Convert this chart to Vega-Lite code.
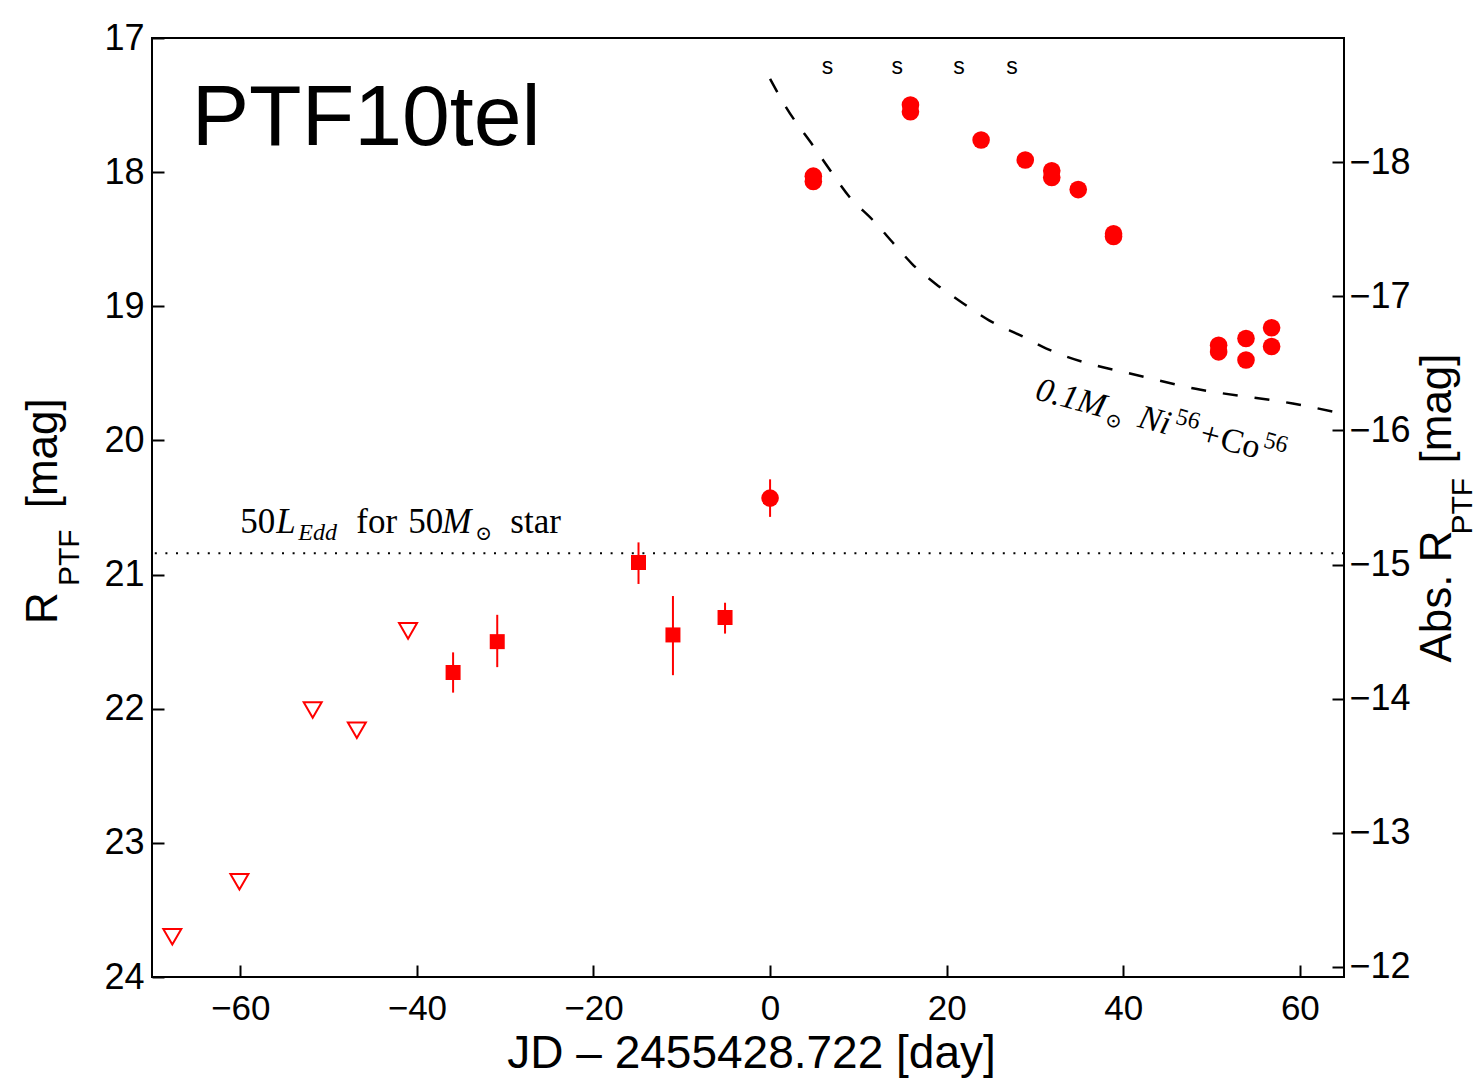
{
  "$schema": "https://vega.github.io/schema/vega-lite/v6.json",
  "width": 1192,
  "height": 939,
  "autosize": {"type": "none"},
  "padding": {"left": 152, "top": 38, "right": 134, "bottom": 102},
  "background": "white",
  "datasets": {
    "limits": [
      {"t": -67.7, "mag": 23.70},
      {"t": -60.1, "mag": 23.29},
      {"t": -51.8, "mag": 22.01},
      {"t": -46.8, "mag": 22.16},
      {"t": -41.0, "mag": 21.42}
    ],
    "phot": [
      {"t": -35.9, "mag": 21.73, "lo": 21.58, "hi": 21.88, "kind": "square"},
      {"t": -30.9, "mag": 21.50, "lo": 21.30, "hi": 21.69, "kind": "square"},
      {"t": -14.9, "mag": 20.91, "lo": 20.76, "hi": 21.07, "kind": "square"},
      {"t": -11.0, "mag": 21.45, "lo": 21.16, "hi": 21.75, "kind": "square"},
      {"t": -5.1, "mag": 21.32, "lo": 21.21, "hi": 21.44, "kind": "square"},
      {"t": 0.0, "mag": 20.43, "lo": 20.29, "hi": 20.57, "kind": "circle"},
      {"t": 4.9, "mag": 18.03, "kind": "circle"},
      {"t": 4.9, "mag": 18.07, "kind": "circle"},
      {"t": 15.9, "mag": 17.50, "kind": "circle"},
      {"t": 15.9, "mag": 17.55, "kind": "circle"},
      {"t": 23.9, "mag": 17.76, "kind": "circle"},
      {"t": 28.9, "mag": 17.91, "kind": "circle"},
      {"t": 31.9, "mag": 17.99, "kind": "circle"},
      {"t": 31.9, "mag": 18.04, "kind": "circle"},
      {"t": 34.9, "mag": 18.13, "kind": "circle"},
      {"t": 38.9, "mag": 18.46, "kind": "circle"},
      {"t": 38.9, "mag": 18.48, "kind": "circle"},
      {"t": 50.8, "mag": 19.29, "kind": "circle"},
      {"t": 50.8, "mag": 19.34, "kind": "circle"},
      {"t": 53.9, "mag": 19.24, "kind": "circle"},
      {"t": 53.9, "mag": 19.40, "kind": "circle"},
      {"t": 56.8, "mag": 19.16, "kind": "circle"},
      {"t": 56.8, "mag": 19.30, "kind": "circle"}
    ],
    "spectra": [{"t": 6.5}, {"t": 14.4}, {"t": 21.4}, {"t": 27.4}],
    "name": [{"t": -65.5, "mag": 17.80, "label": "PTF10tel"}],
    "eddington": [{"absmag": -15.084}],
    "nico": [
      {"t": 0.0, "absmag": -18.62},
      {"t": 1.8, "absmag": -18.41},
      {"t": 5.0, "absmag": -18.11},
      {"t": 6.9, "absmag": -17.93},
      {"t": 9.0, "absmag": -17.74},
      {"t": 11.6, "absmag": -17.57},
      {"t": 14.3, "absmag": -17.37},
      {"t": 16.1, "absmag": -17.24},
      {"t": 18.8, "absmag": -17.09},
      {"t": 21.8, "absmag": -16.95},
      {"t": 24.8, "absmag": -16.82},
      {"t": 28.6, "absmag": -16.70},
      {"t": 31.3, "absmag": -16.61},
      {"t": 37.7, "absmag": -16.47},
      {"t": 39.7, "absmag": -16.44},
      {"t": 48.2, "absmag": -16.31},
      {"t": 59.2, "absmag": -16.20},
      {"t": 64.5, "absmag": -16.13}
    ],
    "edd_label": [{"t": -60.0, "absmag": -15.235}],
    "nico_label": [{"t": 29.9, "absmag": -16.234}]
  },
  "config": {
    "view": {"stroke": "#000000", "strokeWidth": 2},
    "axis": {
      "labelFont": "Liberation Sans",
      "titleFont": "Liberation Sans",
      "titleFontWeight": "normal",
      "labelColor": "#000000",
      "titleColor": "#000000",
      "tickColor": "#000000",
      "tickWidth": 2,
      "grid": false,
      "domain": false,
      "labelFlush": false,
      "labelOverlap": false
    },
    "axisX": {
      "orient": "bottom",
      "titleFontSize": 46,
      "titleX": 599,
      "titleY": 90,
      "titleAlign": "center",
      "titleBaseline": "alphabetic",
      "labelFontSize": 35,
      "tickSize": -12,
      "labelPadding": 26
    }
  },
  "resolve": {"scale": {"y": "independent"}, "axis": {"y": "independent"}},
  "layer": [
    {
      "data": {"name": "limits"},
      "mark": {"type": "point", "shape": "triangle-down", "filled": false, "stroke": "#ff0000", "strokeWidth": 2, "size": 324, "opacity": 1},
      "encoding": {
        "x": {"field": "t", "type": "quantitative", "scale": {"domain": [-70, 65], "nice": false, "zero": false}, "axis": {"title": "JD – 2455428.722 [day]", "values": [-60, -40, -20, 0, 20, 40, 60], "format": "d"}},
        "y": {
          "field": "mag", "type": "quantitative",
          "scale": {"domain": [17, 24], "reverse": true, "nice": false, "zero": false},
          "axis": {
            "orient": "left", "values": [17, 18, 19, 20, 21, 22, 23, 24], "format": "d",
            "labelFontSize": 36, "tickSize": -12, "labelPadding": 20,
            "title": "R", "titleFontSize": 44, "titleAngle": 270,
            "titleX": -95.3, "titleY": 585.5, "titleAlign": "left", "titleBaseline": "alphabetic"
          }
        }
      }
    },
    {
      "data": {"name": "phot"},
      "transform": [{"filter": "datum.lo != null"}],
      "mark": {"type": "rule", "color": "#ff0000", "strokeWidth": 2},
      "encoding": {
        "x": {"field": "t", "type": "quantitative", "scale": {"domain": [-70, 65], "nice": false, "zero": false}, "axis": {"title": "JD – 2455428.722 [day]", "values": [-60, -40, -20, 0, 20, 40, 60], "format": "d"}},
        "y": {
          "field": "lo", "type": "quantitative",
          "scale": {"domain": [17, 24], "reverse": true, "nice": false, "zero": false},
          "axis": {
            "orient": "left", "labels": false, "ticks": false, "domain": false,
            "title": "PTF", "titleFontSize": 30, "titleAngle": 270,
            "titleX": -73.7, "titleY": 547.5, "titleAlign": "left", "titleBaseline": "alphabetic"
          }
        },
        "y2": {"field": "hi"}
      }
    },
    {
      "data": {"name": "phot"},
      "transform": [{"filter": "datum.kind == 'square'"}],
      "mark": {"type": "square", "color": "#ff0000", "size": 225, "opacity": 1},
      "encoding": {
        "x": {"field": "t", "type": "quantitative", "scale": {"domain": [-70, 65], "nice": false, "zero": false}, "axis": {"title": "JD – 2455428.722 [day]", "values": [-60, -40, -20, 0, 20, 40, 60], "format": "d"}},
        "y": {
          "field": "mag", "type": "quantitative",
          "scale": {"domain": [17, 24], "reverse": true, "nice": false, "zero": false},
          "axis": {
            "orient": "left", "labels": false, "ticks": false, "domain": false,
            "title": "[mag]", "titleFontSize": 44, "titleAngle": 270,
            "titleX": -95.3, "titleY": 469.8, "titleAlign": "left", "titleBaseline": "alphabetic"
          }
        }
      }
    },
    {
      "data": {"name": "phot"},
      "transform": [{"filter": "datum.kind == 'circle'"}],
      "mark": {"type": "circle", "color": "#ff0000", "size": 310, "opacity": 1},
      "encoding": {
        "x": {"field": "t", "type": "quantitative", "scale": {"domain": [-70, 65], "nice": false, "zero": false}, "axis": {"title": "JD – 2455428.722 [day]", "values": [-60, -40, -20, 0, 20, 40, 60], "format": "d"}},
        "y": {"field": "mag", "type": "quantitative", "scale": {"domain": [17, 24], "reverse": true, "nice": false, "zero": false}, "axis": null}
      }
    },
    {
      "data": {"name": "spectra"},
      "mark": {"type": "text", "font": "Liberation Sans", "fontSize": 23, "align": "center", "baseline": "alphabetic", "color": "#000000"},
      "encoding": {
        "x": {"field": "t", "type": "quantitative", "scale": {"domain": [-70, 65], "nice": false, "zero": false}, "axis": {"title": "JD – 2455428.722 [day]", "values": [-60, -40, -20, 0, 20, 40, 60], "format": "d"}},
        "y": {"datum": 17.268, "type": "quantitative", "scale": {"domain": [17, 24], "reverse": true, "nice": false, "zero": false}, "axis": null},
        "text": {"value": "s"}
      }
    },
    {
      "data": {"name": "name"},
      "mark": {"type": "text", "font": "Liberation Sans", "fontSize": 86, "align": "left", "baseline": "alphabetic", "color": "#000000"},
      "encoding": {
        "x": {"field": "t", "type": "quantitative", "scale": {"domain": [-70, 65], "nice": false, "zero": false}, "axis": {"title": "JD – 2455428.722 [day]", "values": [-60, -40, -20, 0, 20, 40, 60], "format": "d"}},
        "y": {"field": "mag", "type": "quantitative", "scale": {"domain": [17, 24], "reverse": true, "nice": false, "zero": false}, "axis": null},
        "text": {"field": "label"}
      }
    },
    {
      "data": {"name": "eddington"},
      "mark": {"type": "rule", "color": "#000000", "strokeWidth": 2, "strokeDash": [2, 8.6]},
      "encoding": {
        "y": {
          "field": "absmag", "type": "quantitative",
          "scale": {"domain": [-18.925, -11.925], "reverse": true, "nice": false, "zero": false},
          "axis": {
            "orient": "right", "values": [-18, -17, -16, -15, -14, -13, -12], "format": "d",
            "labelFontSize": 36, "tickSize": -12, "labelPadding": 17, "labelAlign": "left",
            "title": "Abs. R", "titleFontSize": 44, "titleAngle": 270,
            "titleX": 106, "titleY": 624, "titleAlign": "left", "titleBaseline": "alphabetic"
          }
        }
      }
    },
    {
      "data": {"name": "nico"},
      "mark": {"type": "line", "color": "#000000", "strokeWidth": 2.5, "strokeDash": [15, 17], "interpolate": "monotone"},
      "encoding": {
        "x": {"field": "t", "type": "quantitative", "scale": {"domain": [-70, 65], "nice": false, "zero": false}, "axis": {"title": "JD – 2455428.722 [day]", "values": [-60, -40, -20, 0, 20, 40, 60], "format": "d"}},
        "y": {
          "field": "absmag", "type": "quantitative",
          "scale": {"domain": [-18.925, -11.925], "reverse": true, "nice": false, "zero": false},
          "axis": {
            "orient": "right", "labels": false, "ticks": false, "domain": false,
            "title": "PTF", "titleFontSize": 30, "titleAngle": 270,
            "titleX": 127.6, "titleY": 496, "titleAlign": "left", "titleBaseline": "alphabetic"
          }
        }
      }
    },
    {
      "data": {"name": "edd_label"},
      "mark": {"type": "text", "font": "Liberation Serif", "fontSize": 35, "align": "left", "baseline": "alphabetic", "color": "#000000"},
      "encoding": {
        "x": {"field": "t", "type": "quantitative", "scale": {"domain": [-70, 65], "nice": false, "zero": false}, "axis": {"title": "JD – 2455428.722 [day]", "values": [-60, -40, -20, 0, 20, 40, 60], "format": "d"}},
        "y": {
          "field": "absmag", "type": "quantitative",
          "scale": {"domain": [-18.925, -11.925], "reverse": true, "nice": false, "zero": false},
          "axis": {
            "orient": "right", "labels": false, "ticks": false, "domain": false,
            "title": "[mag]", "titleFontSize": 44, "titleAngle": 270,
            "titleX": 106, "titleY": 425, "titleAlign": "left", "titleBaseline": "alphabetic"
          }
        },
        "text": {"value": "50"}
      }
    },
    {
      "data": {"name": "edd_label"},
      "mark": {"type": "text", "font": "Liberation Serif", "fontSize": 35, "fontStyle": "italic", "align": "left", "baseline": "alphabetic", "dx": 36, "color": "#000000"},
      "encoding": {
        "x": {"field": "t", "type": "quantitative", "scale": {"domain": [-70, 65], "nice": false, "zero": false}, "axis": {"title": "JD – 2455428.722 [day]", "values": [-60, -40, -20, 0, 20, 40, 60], "format": "d"}},
        "y": {"field": "absmag", "type": "quantitative", "scale": {"domain": [-18.925, -11.925], "reverse": true, "nice": false, "zero": false}, "axis": null},
        "text": {"value": "L"}
      }
    },
    {
      "data": {"name": "edd_label"},
      "mark": {"type": "text", "font": "Liberation Serif", "fontSize": 24, "fontStyle": "italic", "align": "left", "baseline": "alphabetic", "dx": 58, "dy": 7, "color": "#000000"},
      "encoding": {
        "x": {"field": "t", "type": "quantitative", "scale": {"domain": [-70, 65], "nice": false, "zero": false}, "axis": {"title": "JD – 2455428.722 [day]", "values": [-60, -40, -20, 0, 20, 40, 60], "format": "d"}},
        "y": {"field": "absmag", "type": "quantitative", "scale": {"domain": [-18.925, -11.925], "reverse": true, "nice": false, "zero": false}, "axis": null},
        "text": {"value": "Edd"}
      }
    },
    {
      "data": {"name": "edd_label"},
      "mark": {"type": "text", "font": "Liberation Serif", "fontSize": 35, "align": "left", "baseline": "alphabetic", "dx": 116, "color": "#000000"},
      "encoding": {
        "x": {"field": "t", "type": "quantitative", "scale": {"domain": [-70, 65], "nice": false, "zero": false}, "axis": {"title": "JD – 2455428.722 [day]", "values": [-60, -40, -20, 0, 20, 40, 60], "format": "d"}},
        "y": {"field": "absmag", "type": "quantitative", "scale": {"domain": [-18.925, -11.925], "reverse": true, "nice": false, "zero": false}, "axis": null},
        "text": {"value": "for"}
      }
    },
    {
      "data": {"name": "edd_label"},
      "mark": {"type": "text", "font": "Liberation Serif", "fontSize": 35, "align": "left", "baseline": "alphabetic", "dx": 168, "color": "#000000"},
      "encoding": {
        "x": {"field": "t", "type": "quantitative", "scale": {"domain": [-70, 65], "nice": false, "zero": false}, "axis": {"title": "JD – 2455428.722 [day]", "values": [-60, -40, -20, 0, 20, 40, 60], "format": "d"}},
        "y": {"field": "absmag", "type": "quantitative", "scale": {"domain": [-18.925, -11.925], "reverse": true, "nice": false, "zero": false}, "axis": null},
        "text": {"value": "50"}
      }
    },
    {
      "data": {"name": "edd_label"},
      "mark": {"type": "text", "font": "Liberation Serif", "fontSize": 35, "fontStyle": "italic", "align": "left", "baseline": "alphabetic", "dx": 202, "color": "#000000"},
      "encoding": {
        "x": {"field": "t", "type": "quantitative", "scale": {"domain": [-70, 65], "nice": false, "zero": false}, "axis": {"title": "JD – 2455428.722 [day]", "values": [-60, -40, -20, 0, 20, 40, 60], "format": "d"}},
        "y": {"field": "absmag", "type": "quantitative", "scale": {"domain": [-18.925, -11.925], "reverse": true, "nice": false, "zero": false}, "axis": null},
        "text": {"value": "M"}
      }
    },
    {
      "data": {"name": "edd_label"},
      "mark": {"type": "text", "font": "DejaVu Serif", "fontSize": 20, "align": "left", "baseline": "alphabetic", "dx": 235, "dy": 7, "color": "#000000"},
      "encoding": {
        "x": {"field": "t", "type": "quantitative", "scale": {"domain": [-70, 65], "nice": false, "zero": false}, "axis": {"title": "JD – 2455428.722 [day]", "values": [-60, -40, -20, 0, 20, 40, 60], "format": "d"}},
        "y": {"field": "absmag", "type": "quantitative", "scale": {"domain": [-18.925, -11.925], "reverse": true, "nice": false, "zero": false}, "axis": null},
        "text": {"value": "⊙"}
      }
    },
    {
      "data": {"name": "edd_label"},
      "mark": {"type": "text", "font": "Liberation Serif", "fontSize": 35, "align": "left", "baseline": "alphabetic", "dx": 270, "color": "#000000"},
      "encoding": {
        "x": {"field": "t", "type": "quantitative", "scale": {"domain": [-70, 65], "nice": false, "zero": false}, "axis": {"title": "JD – 2455428.722 [day]", "values": [-60, -40, -20, 0, 20, 40, 60], "format": "d"}},
        "y": {"field": "absmag", "type": "quantitative", "scale": {"domain": [-18.925, -11.925], "reverse": true, "nice": false, "zero": false}, "axis": null},
        "text": {"value": "star"}
      }
    },
    {
      "data": {"name": "nico_label"},
      "mark": {"type": "text", "font": "Liberation Serif", "fontSize": 34, "fontStyle": "italic", "align": "left", "baseline": "alphabetic", "angle": 15, "color": "#000000"},
      "encoding": {
        "x": {"field": "t", "type": "quantitative", "scale": {"domain": [-70, 65], "nice": false, "zero": false}, "axis": {"title": "JD – 2455428.722 [day]", "values": [-60, -40, -20, 0, 20, 40, 60], "format": "d"}},
        "y": {"field": "absmag", "type": "quantitative", "scale": {"domain": [-18.925, -11.925], "reverse": true, "nice": false, "zero": false}, "axis": null},
        "text": {"value": "0.1M"}
      }
    },
    {
      "data": {"name": "nico_label"},
      "mark": {"type": "text", "font": "DejaVu Serif", "fontSize": 20, "align": "left", "baseline": "alphabetic", "angle": 15, "dx": 74, "dy": 7, "color": "#000000"},
      "encoding": {
        "x": {"field": "t", "type": "quantitative", "scale": {"domain": [-70, 65], "nice": false, "zero": false}, "axis": {"title": "JD – 2455428.722 [day]", "values": [-60, -40, -20, 0, 20, 40, 60], "format": "d"}},
        "y": {"field": "absmag", "type": "quantitative", "scale": {"domain": [-18.925, -11.925], "reverse": true, "nice": false, "zero": false}, "axis": null},
        "text": {"value": "⊙"}
      }
    },
    {
      "data": {"name": "nico_label"},
      "mark": {"type": "text", "font": "Liberation Serif", "fontSize": 34, "fontStyle": "italic", "align": "left", "baseline": "alphabetic", "angle": 15, "dx": 106, "color": "#000000"},
      "encoding": {
        "x": {"field": "t", "type": "quantitative", "scale": {"domain": [-70, 65], "nice": false, "zero": false}, "axis": {"title": "JD – 2455428.722 [day]", "values": [-60, -40, -20, 0, 20, 40, 60], "format": "d"}},
        "y": {"field": "absmag", "type": "quantitative", "scale": {"domain": [-18.925, -11.925], "reverse": true, "nice": false, "zero": false}, "axis": null},
        "text": {"value": "Ni"}
      }
    },
    {
      "data": {"name": "nico_label"},
      "mark": {"type": "text", "font": "Liberation Serif", "fontSize": 24, "align": "left", "baseline": "alphabetic", "angle": 15, "dx": 142, "dy": -13, "color": "#000000"},
      "encoding": {
        "x": {"field": "t", "type": "quantitative", "scale": {"domain": [-70, 65], "nice": false, "zero": false}, "axis": {"title": "JD – 2455428.722 [day]", "values": [-60, -40, -20, 0, 20, 40, 60], "format": "d"}},
        "y": {"field": "absmag", "type": "quantitative", "scale": {"domain": [-18.925, -11.925], "reverse": true, "nice": false, "zero": false}, "axis": null},
        "text": {"value": "56"}
      }
    },
    {
      "data": {"name": "nico_label"},
      "mark": {"type": "text", "font": "Liberation Serif", "fontSize": 34, "align": "left", "baseline": "alphabetic", "angle": 15, "dx": 170, "color": "#000000"},
      "encoding": {
        "x": {"field": "t", "type": "quantitative", "scale": {"domain": [-70, 65], "nice": false, "zero": false}, "axis": {"title": "JD – 2455428.722 [day]", "values": [-60, -40, -20, 0, 20, 40, 60], "format": "d"}},
        "y": {"field": "absmag", "type": "quantitative", "scale": {"domain": [-18.925, -11.925], "reverse": true, "nice": false, "zero": false}, "axis": null},
        "text": {"value": "+"}
      }
    },
    {
      "data": {"name": "nico_label"},
      "mark": {"type": "text", "font": "Liberation Serif", "fontSize": 34, "align": "left", "baseline": "alphabetic", "angle": 15, "dx": 191, "color": "#000000"},
      "encoding": {
        "x": {"field": "t", "type": "quantitative", "scale": {"domain": [-70, 65], "nice": false, "zero": false}, "axis": {"title": "JD – 2455428.722 [day]", "values": [-60, -40, -20, 0, 20, 40, 60], "format": "d"}},
        "y": {"field": "absmag", "type": "quantitative", "scale": {"domain": [-18.925, -11.925], "reverse": true, "nice": false, "zero": false}, "axis": null},
        "text": {"value": "Co"}
      }
    },
    {
      "data": {"name": "nico_label"},
      "mark": {"type": "text", "font": "Liberation Serif", "fontSize": 24, "align": "left", "baseline": "alphabetic", "angle": 15, "dx": 233, "dy": -13, "color": "#000000"},
      "encoding": {
        "x": {"field": "t", "type": "quantitative", "scale": {"domain": [-70, 65], "nice": false, "zero": false}, "axis": {"title": "JD – 2455428.722 [day]", "values": [-60, -40, -20, 0, 20, 40, 60], "format": "d"}},
        "y": {"field": "absmag", "type": "quantitative", "scale": {"domain": [-18.925, -11.925], "reverse": true, "nice": false, "zero": false}, "axis": null},
        "text": {"value": "56"}
      }
    }
  ]
}
